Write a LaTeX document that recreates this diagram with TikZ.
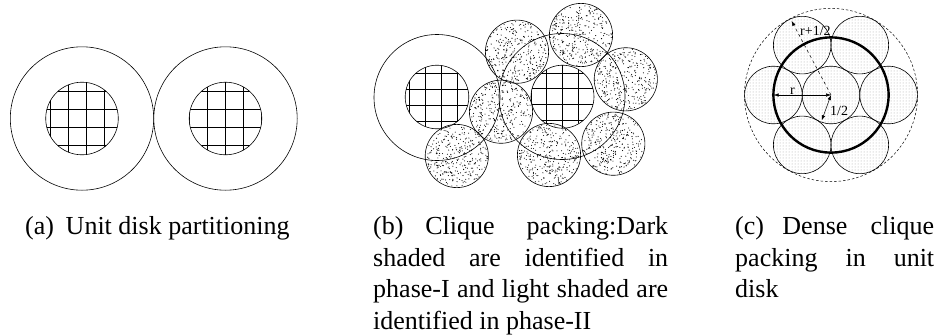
\documentclass[tikz,border=0pt]{standalone}
\usepackage{fontspec}
\setmainfont{Liberation Serif}
\usetikzlibrary{arrows.meta,patterns,calc}
\tikzset{>=latex}
\tikzset{disk/.style = {line width=0.6pt}}
\tikzset{gridline/.style = {line width=0.7pt}}
\tikzset{thickdisk/.style = {line width=2.4pt}}
\tikzset{outerdisk/.style = {line width=0.5pt, dash pattern=on 2.5pt off 2pt}}
\tikzset{lightpack/.style = {pattern=dots, pattern color=gray!70}}
\tikzset{stippledot/.style = {fill=black}}
\tikzset{measure/.style = {>={Latex[length=5pt,width=3.5pt]}, line width=0.5pt}}
\tikzset{sublabel/.style = {inner sep=0pt, font=\fontsize{14}{16}\selectfont}}
\tikzset{caption/.style = {anchor=north west, inner sep=0pt, text width=#1,
    align=justify, font=\fontsize{26}{31.5}\selectfont}}
\hyphenpenalty=10000
\exhyphenpenalty=10000

% disk with a square grid inside: x, y, radius, shift of the columns
\newcommand{\griddisk}[4]{%
  \begin{scope}
    \clip (#1,#2) circle[radius=#3];
    \foreach \k in {-3,...,3} {
      \draw[gridline] ({#1+(\k+#4)*#3/2},{#2-#3}) -- ({#1+(\k+#4)*#3/2},{#2+#3});
      \draw[gridline] ({#1-#3},{#2+(\k+0.5)*#3/2}) -- ({#1+#3},{#2+(\k+0.5)*#3/2});
    }
  \end{scope}
  \draw[disk] (#1,#2) circle[radius=#3];
}

% clique disk filled with random dots: x, y, radius
\newcommand{\stipple}[3]{%
  \foreach \i in {1,...,300} {
    \pgfmathsetmacro{\aa}{360*rnd}
    \pgfmathsetmacro{\rr}{(#3-0.8)*sqrt(rnd)}
    \fill[stippledot] ({#1+\rr*cos(\aa)},{#2+\rr*sin(\aa)}) circle[radius=0.55];
  }
  \draw[disk] (#1,#2) circle[radius=#3];
}

% space after a sub-figure label
\newcommand{\labsep}{\hskip 0.45em plus 0.05em}

\begin{document}
\begin{tikzpicture}[x=1pt,y=-1pt]
  \useasboundingbox (0,0) rectangle (939,335);
  \pgfmathsetseed{7}

  % (a) two unit disks
  \draw[disk] (82,118.5) circle[radius=71.7];
  \draw[disk] (225.5,118.5) circle[radius=71.7];
  \griddisk{82}{118.5}{36.3}{0.25}
  \griddisk{225.5}{118.5}{36.3}{0}

  % (b) unit disks and cliques
  \draw[disk] (437,97.5) circle[radius=63];
  \draw[disk] (562,96.5) circle[radius=63];
  \griddisk{437}{97}{31.8}{0.25}
  \griddisk{562.5}{96.7}{31.5}{0}
  \foreach \cx/\cy in {517/51.7, 581/35, 625.8/79.3, 501/111.7,
      456.8/156, 549/155, 613.3/143.7}
    \stipple{\cx}{\cy}{31.6};

  % (c) dense packing
  \coordinate (o) at (831,95);
  \fill[lightpack] (o) circle[radius=28.8];
  \foreach \a in {0,60,...,300}
    \fill[lightpack] ($(o)+(\a:57.6)$) circle[radius=28.8];
  \draw[disk] (o) circle[radius=28.8];
  \foreach \a in {0,60,...,300}
    \draw[disk] ($(o)+(\a:57.6)$) circle[radius=28.8];
  \draw[thickdisk] (o) circle[radius=57.6];
  \draw[outerdisk] (o) circle[radius=86.6];

  \coordinate (rl) at ($(o)+(180:57.4)$);
  \coordinate (ro) at ($(o)+(242:84)$);
  \coordinate (rh) at ($(o)+(110:27)$);
  \draw[measure,<->] (rl) -- (o);
  \draw[measure,->,dashed] (o) -- (ro);
  \draw[measure,<->] (o) -- (rh);
  \node[sublabel,anchor=base] (lr) at (792.5,94) {r};
  \node[sublabel,anchor=base west] (lro) at (800,35) {r+1/2};
  \node[sublabel,anchor=base west] (lrh) at (830,115.5) {1/2};

  % captions
  \node[caption=295pt] (capa) at (25,216.5)
    {(a)\labsep Unit disk partitioning};
  \node[caption=295pt] (capb) at (373,216.5)
    {(b)\labsep Clique packing:Dark\linebreak shaded are identified in\linebreak
     phase-I and light shaded are\linebreak identified in phase-II};
  \node[caption=199pt] (capc) at (735,216.5)
    {(c)\labsep Dense clique\linebreak packing in unit\linebreak disk};
\end{tikzpicture}
\end{document}
